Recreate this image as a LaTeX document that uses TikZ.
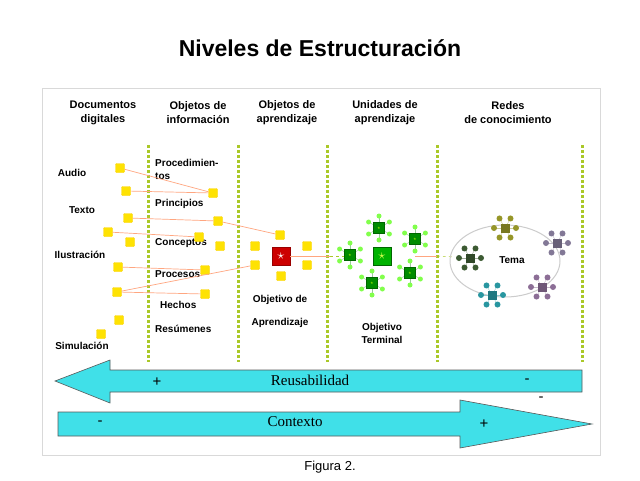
\documentclass[tikz,border=0pt]{standalone}
\usepackage{fontspec}
\setmainfont{Liberation Sans}
\newfontfamily\serifb{Liberation Serif}
\begin{document}
\begin{tikzpicture}[x=1pt,y=-1pt,
 lbl/.style={font=\bfseries\fontsize{10}{13}\selectfont, inner sep=0pt},
 hdr/.style={font=\bfseries\fontsize{11}{14}\selectfont, align=center, inner sep=0pt},
 ysq/.style={draw=yellow!70!orange, fill=yellow!85!orange, minimum size=9pt, inner sep=0pt, rounded corners=1pt},
 link/.style={draw=orange!60!red!50, line width=0.7pt},
 gdots/.style={draw=yellowgreen, line width=3pt, dash pattern=on 2.5pt off 2.5pt},
 bigarrow/.style={draw=gray!70!black, fill=arrc, line width=0.6pt},
 arrtxt/.style={font=\serifb\fontsize{15}{17}\selectfont, inner sep=0pt},
 pm/.style={font=\fontsize{15}{17}\selectfont, inner sep=0pt}]
\definecolor{arrc}{RGB}{64,224,232}
\definecolor{yellowgreen}{RGB}{170,200,40}
\definecolor{nA}{RGB}{150,150,40}
\definecolor{nB}{RGB}{130,120,150}
\definecolor{nC}{RGB}{60,90,50}
\definecolor{nD}{RGB}{40,150,160}
\definecolor{nE}{RGB}{140,110,150}
\useasboundingbox (0,0) rectangle (640,480);
\fill[white] (0,0) rectangle (640,480);
\node[font=\bfseries\fontsize{23}{27}\selectfont] (title) at (320,48) {Niveles de Estructuración};
\draw[gray!30] (42,88) rectangle (600,455);
% headers
\node[hdr] (h1) at (103,113) {Documentos\\digitales};
\node[hdr] (h2) at (198,113) {Objetos de\\información};
\node[hdr] (h3) at (287,113) {Objetos de\\aprendizaje};
\node[hdr] (h4) at (385,113) {Unidades de\\aprendizaje};
\node[hdr] (h5) at (508,113) {Redes\\de conocimiento};
% dotted separators
\foreach \x in {148,238,327,437,582} \draw[gdots] (\x,145) -- (\x,362);
% left labels
\node[lbl] (audio) at (72,173) {Audio};
\node[lbl] (texto) at (82,210) {Texto};
\node[lbl] (ilus) at (80,255) {Ilustración};
\node[lbl] (sim) at (82,346) {Simulación};
% mid labels
\node[lbl,anchor=west,align=left] (proc) at (155,169) {Procedimien-\\tos};
\node[lbl,anchor=west] (princ) at (155,204) {Principios};
\node[lbl,anchor=west] (conc) at (155,243) {Conceptos};
\node[lbl,anchor=west] (pros) at (155,274) {Procesos};
\node[lbl,anchor=west] (hech) at (160,305) {Hechos};
\node[lbl,anchor=west] (resu) at (155,329) {Resúmenes};
\node[lbl] (oa1) at (280,300) {Objetivo de};
\node[lbl] (oa2) at (280,323) {Aprendizaje};
\node[lbl,align=center] (ot) at (382,333) {Objetivo\\Terminal};
% squares left
\node[ysq] (a1) at (120,168) {};
\node[ysq] (a2) at (126,191) {};
\node[ysq] (a3) at (128,218) {};
\node[ysq] (a4) at (108,232) {};
\node[ysq] (a5) at (130,242) {};
\node[ysq] (a6) at (118,267) {};
\node[ysq] (a7) at (117,292) {};
\node[ysq] (a8) at (119,320) {};
\node[ysq] (a9) at (101,334) {};
\node[ysq] (b1) at (213,193) {};
\node[ysq] (b2) at (218,221) {};
\node[ysq] (b3) at (199,237) {};
\node[ysq] (b4) at (220,246) {};
\node[ysq] (b5) at (205,270) {};
\node[ysq] (b6) at (205,294) {};
\node[ysq] (c1) at (280,235) {};
\node[ysq] (c2) at (255,246) {};
\node[ysq] (c3) at (307,246) {};
\node[ysq] (c4) at (255,265) {};
\node[ysq] (c5) at (307,265) {};
\node[ysq] (c6) at (281,276) {};
\node[draw=red!60!black, fill=red!80!black, minimum size=18pt, inner sep=0pt, text=white, font=\fontsize{14}{14}\selectfont] (star) at (281,256) {$\star$};
% links
\draw[link] (a1) -- (b1);
\draw[link] (a2) -- (b1);
\draw[link] (a3) -- (b2) -- (c1);
\draw[link] (a4) -- (b3);
\draw[link] (a6) -- (b5);
\draw[link] (a7) -- (b6);
\draw[link] (a7) -- (c4);
\coordinate (e1) at (330,256);
\draw[link] (star) -- (e1);
\draw[yellowgreen, dashed] (e1) -- (345,256);
\draw[link] (415,256) -- (437,256);
\draw[yellowgreen, dashed] (437,256) -- (455,257);
% green unit cluster
\foreach \cx/\cy/\n in {379/228/g1,415/239/g2,350/255/g3,410/273/g4,372/283/g5}{
  \foreach \a in {0,60,...,300} \draw[green!50!black!40] (\cx,\cy) -- ++(\a+30:10);
  \foreach \a in {0,60,...,300} \fill[green!70!yellow!70] (\cx,\cy) ++(\a+30:12) circle (2.5);
  \node[draw=green!40!black, fill=green!55!black, minimum size=11pt, inner sep=0pt, text=lime, font=\tiny] (\n) at (\cx,\cy) {$\star$};
}
\node[draw=green!40!black, fill=green!70!black, minimum size=18pt, inner sep=0pt, text=lime!70, font=\fontsize{14}{14}\selectfont] (gbig) at (382,256) {$\star$};
% network
\draw[gray!40, line width=1pt] (505,261) ellipse (55 and 36);
\foreach \cx/\cy/\col in {505/228/nA,557/243/nB,470/258/nC,492/295/nD,542/287/nE}{
  \foreach \a in {0,60,...,300} {\draw[\col!50] (\cx,\cy) -- ++(\a:11); \fill[\col] (\cx,\cy) ++(\a:11) circle (3);}
  \fill[\col!80!black] (\cx-4.5,\cy-4.5) rectangle (\cx+4.5,\cy+4.5);
}
\node[lbl] (tema) at (512,260) {Tema};
% big arrows
\draw[bigarrow] (582,370) -- (110,370) -- (110,360) -- (55,381) -- (110,403) -- (110,392) -- (582,392) -- cycle;
\node[arrtxt] (reus) at (310,380) {Reusabilidad};
\node[pm] (p1) at (157,382) {+};
\node[pm] (m1) at (527,381) {-};
\node[pm] (m2) at (541,399) {-};
\draw[bigarrow] (58,412) -- (460,412) -- (460,400) -- (592,424) -- (460,448) -- (460,436) -- (58,436) -- cycle;
\node[arrtxt] (ctx) at (295,422) {Contexto};
\node[pm] (m3) at (100,423) {-};
\node[pm] (p2) at (484,424) {+};
\node[font=\fontsize{13}{15}\selectfont] (fig) at (330,467) {Figura 2.};
\end{tikzpicture}
\end{document}
